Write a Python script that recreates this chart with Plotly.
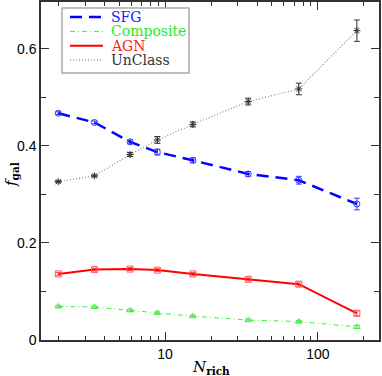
import plotly.graph_objects as go

n_rich = [2, 3.45, 5.9, 8.9, 15.2, 35, 75, 180]

sfg = [0.467, 0.448, 0.408, 0.387, 0.370, 0.342, 0.329, 0.280]
sfg_err = [0.003, 0.003, 0.004, 0.006, 0.005, 0.005, 0.008, 0.012]

composite = [0.069, 0.068, 0.061, 0.056, 0.049, 0.041, 0.038, 0.027]
composite_err = [0.002, 0.002, 0.002, 0.002, 0.002, 0.002, 0.002, 0.003]

agn = [0.136, 0.145, 0.146, 0.144, 0.136, 0.125, 0.115, 0.055]
agn_err = [0.003, 0.003, 0.003, 0.003, 0.003, 0.003, 0.004, 0.005]

unclass = [0.326, 0.338, 0.382, 0.412, 0.444, 0.491, 0.517, 0.637]
unclass_err = [0.002, 0.002, 0.004, 0.007, 0.005, 0.007, 0.012, 0.022]

x_major = [10, 100]
x_minor = [2, 3, 4, 5, 6, 7, 8, 9, 20, 30, 40, 50, 60, 70, 80, 90, 200]
y_major = [0, 0.2, 0.4, 0.6]
y_minor = [0.1, 0.3, 0.5]

# name, values, errors, line colour, marker colour, text colour, dash, symbol, width
series = [
    ("SFG", sfg, sfg_err, "#0000ff", "#3a3aff", "#2020ff", "12px,7px", "circle-open", 2.5),
    ("Composite", composite, composite_err, "#44ee44", "#44ee44", "#22ee22", "5px,3px,1px,3px", "triangle-up-open", 1),
    ("AGN", agn, agn_err, "#ff0000", "#ff5a5a", "#ff2020", "solid", "square-open", 2),
    ("UnClass", unclass, unclass_err, "#888888", "#333333", "#333333", "1px,2px", "asterisk-open", 1.2),
]

fig = go.Figure()

for name, ys, errs, col, mcol, tcol, dash, sym, lw in series:
    fig.add_trace(go.Scatter(
        x=n_rich, y=ys, mode="lines+markers", showlegend=False, name=name,
        line=dict(color=col, width=lw, dash=dash),
        marker=dict(symbol=sym, size=6, color=mcol, line=dict(width=1, color=mcol)),
        error_y=dict(type="data", array=errs, color=mcol, thickness=1, width=3),
    ))


# hand-drawn legend box (paper coordinates)
def px_x(p):
    return (p - 41) / 338.0


def px_y(p):
    return (340 - p) / 338.0


shapes = [dict(type="rect", xref="paper", yref="paper",
               x0=px_x(62), x1=px_x(189), y0=px_y(73), y1=px_y(8),
               line=dict(color="#aaaaaa", width=1.5), fillcolor="white", layer="above")]
annotations = []
for i, (name, ys, errs, col, mcol, tcol, dash, sym, lw) in enumerate(series):
    yy = px_y(17 + 14.4 * i)
    shapes.append(dict(type="line", xref="paper", yref="paper",
                       x0=px_x(70), x1=px_x(103), y0=yy, y1=yy, layer="above",
                       line=dict(color=col, width=lw, dash=dash)))
    annotations.append(dict(xref="paper", yref="paper", x=px_x(109), y=yy,
                            text=name, showarrow=False, xanchor="left", yanchor="middle",
                            font=dict(family="DejaVu Serif", size=14, color=tcol)))

annotations.append(dict(xref="paper", yref="paper", x=px_x(211), y=px_y(367),
                        text="<i>N</i><sub><b>rich</b></sub>", showarrow=False,
                        xanchor="center", yanchor="middle",
                        font=dict(family="DejaVu Serif", size=15, color="black")))
annotations.append(dict(xref="paper", yref="paper", x=px_x(11), y=px_y(175),
                        text="<i>f</i><sub><b>gal</b></sub>", showarrow=False, textangle=-90,
                        xanchor="center", yanchor="middle",
                        font=dict(family="DejaVu Serif", size=15, color="black")))

tick_style = dict(ticks="inside", ticklen=8, tickwidth=1, tickcolor="#333",
                  showline=True, linecolor="#333", linewidth=1.5, mirror="allticks",
                  showgrid=False, zeroline=False, automargin=False)

fig.update_layout(
    width=382, height=376,
    margin=dict(l=41, r=3, t=2, b=36),
    plot_bgcolor="white", paper_bgcolor="white",
    font=dict(family="Liberation Sans", size=14, color="black"),
    showlegend=False,
    shapes=shapes,
    annotations=annotations,
    xaxis=dict(
        type="log", range=[0.188, 2.400],
        tickvals=x_major, ticktext=[str(v) for v in x_major],
        minor=dict(tickvals=x_minor, ticks="inside", ticklen=4, tickcolor="#333", showgrid=False),
        **tick_style,
    ),
    yaxis=dict(
        range=[0, 0.696],
        tickvals=y_major, ticktext=["0", "0.2", "0.4", "0.6"],
        minor=dict(tickvals=y_minor, ticks="inside", ticklen=5, tickcolor="#333", showgrid=False),
        **tick_style,
    ),
)

fig.write_html("out.html", config={"displayModeBar": False},
               post_script="document.body.style.margin='0';")
